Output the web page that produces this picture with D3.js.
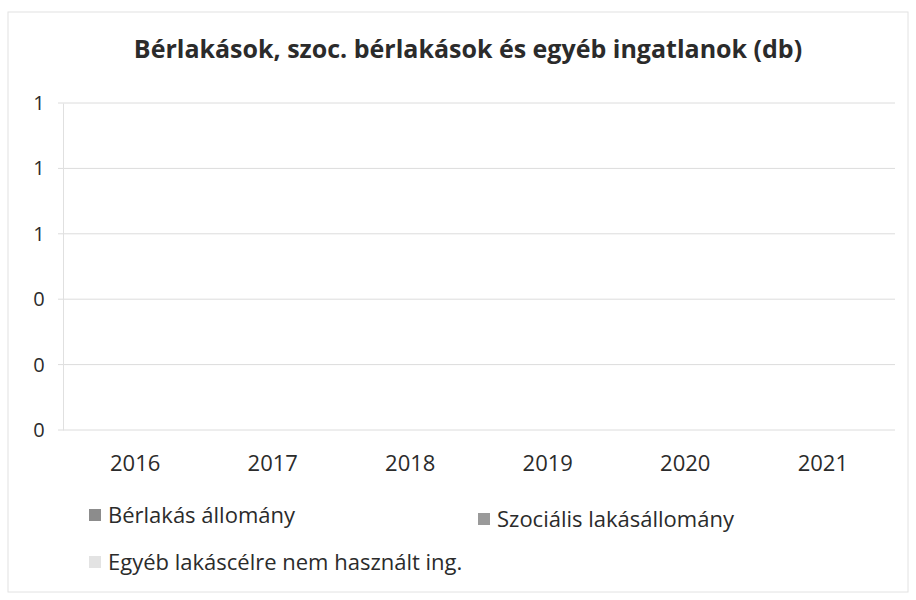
<!DOCTYPE html>
<html>
<head>
<meta charset="utf-8">
<script src="https://cdn.jsdelivr.net/npm/d3@7/dist/d3.min.js"></script>
<style>
  body { margin: 0; background: #fff; }
  svg text { font-family: "Open Sans", sans-serif; fill: #2b2b2b; }
</style>
</head>
<body>
<svg id="chart" width="916" height="600"></svg>
<script>
// adatok
var years = ["2016", "2017", "2018", "2019", "2020", "2021"];
var seriesNames = ["Bérlakás állomány", "Szociális lakásállomány", "Egyéb lakáscélre nem használt ing."];
var berlakas = [0, 0, 0, 0, 0, 0];
var szocialis = [0, 0, 0, 0, 0, 0];
var egyeb = [0, 0, 0, 0, 0, 0];
var yTicks = [0, 0.2, 0.4, 0.6, 0.8, 1];
var colors = ["#8c8c8c", "#9a9a9a", "#e3e3e3"];

var svg = d3.select('#chart');

// keret
svg.append('rect')
	.attr('x', 8).attr('y', 12)
	.attr('width', 900).attr('height', 580)
	.style('fill', 'none')
	.style('stroke', '#e2e2e2');

var x = d3.scaleBand().domain(years).range([63, 895]).paddingInner(0.35).paddingOuter(0.2);
var y = d3.scaleLinear().domain([0, 1]).range([430, 103]);

// rács
svg.append('g').selectAll('line').data(yTicks).enter().append('line')
	.attr('x1', 58).attr('x2', 895)
	.attr('y1', function(d) { return y(d); })
	.attr('y2', function(d) { return y(d); })
	.style('stroke', '#dcdcdc');

// y tengely
var yAxis = svg.append('g')
	.attr('transform', 'translate(63,0)')
	.call(d3.axisLeft(y).tickValues(yTicks).tickFormat(d3.format('.0f')).tickSize(0).tickPadding(18));
yAxis.select('.domain').style('stroke', '#e0e0e0');
yAxis.selectAll('text').style('font-size', '20px').attr('text-anchor', 'middle').attr('dx', '-0.3em');

// x tengely
var xAxis = svg.append('g')
	.attr('transform', 'translate(0,430)')
	.call(d3.axisBottom(x).tickSize(0).tickPadding(25));
xAxis.select('.domain').remove();
xAxis.selectAll('text').style('font-size', '22px');

// oszlopok (mind 0)
var sub = d3.scaleBand().domain(d3.range(3)).range([0, x.bandwidth()]);
var all = [berlakas, szocialis, egyeb];
all.forEach(function(vals, s) {
	svg.append('g').selectAll('rect').data(vals).enter().append('rect')
		.attr('x', function(d, i) { return x(years[i]) + sub(s); })
		.attr('y', function(d) { return y(d); })
		.attr('width', sub.bandwidth())
		.attr('height', function(d) { return y(0) - y(d); })
		.style('fill', colors[s]);
});

// cím
svg.append('text')
	.attr('x', 468).attr('y', 58)
	.attr('text-anchor', 'middle')
	.style('font-size', '25px')
	.style('font-weight', 'bold')
	.text('Bérlakások, szoc. bérlakások és egyéb ingatlanok (db)');

// jelmagyarázat
var legendPos = [[89, 523], [478, 527], [89, 570]];
var legend = svg.append('g').selectAll('g').data(seriesNames).enter().append('g')
	.attr('transform', function(d, i) { return 'translate(' + legendPos[i][0] + ',' + legendPos[i][1] + ')'; });
legend.append('rect')
	.attr('x', 0).attr('y', -14)
	.attr('width', 12).attr('height', 12)
	.style('fill', function(d, i) { return colors[i]; });
legend.append('text')
	.attr('x', 19).attr('y', 0)
	.style('font-size', '22px')
	.text(function(d) { return d; });
</script>
</body>
</html>
